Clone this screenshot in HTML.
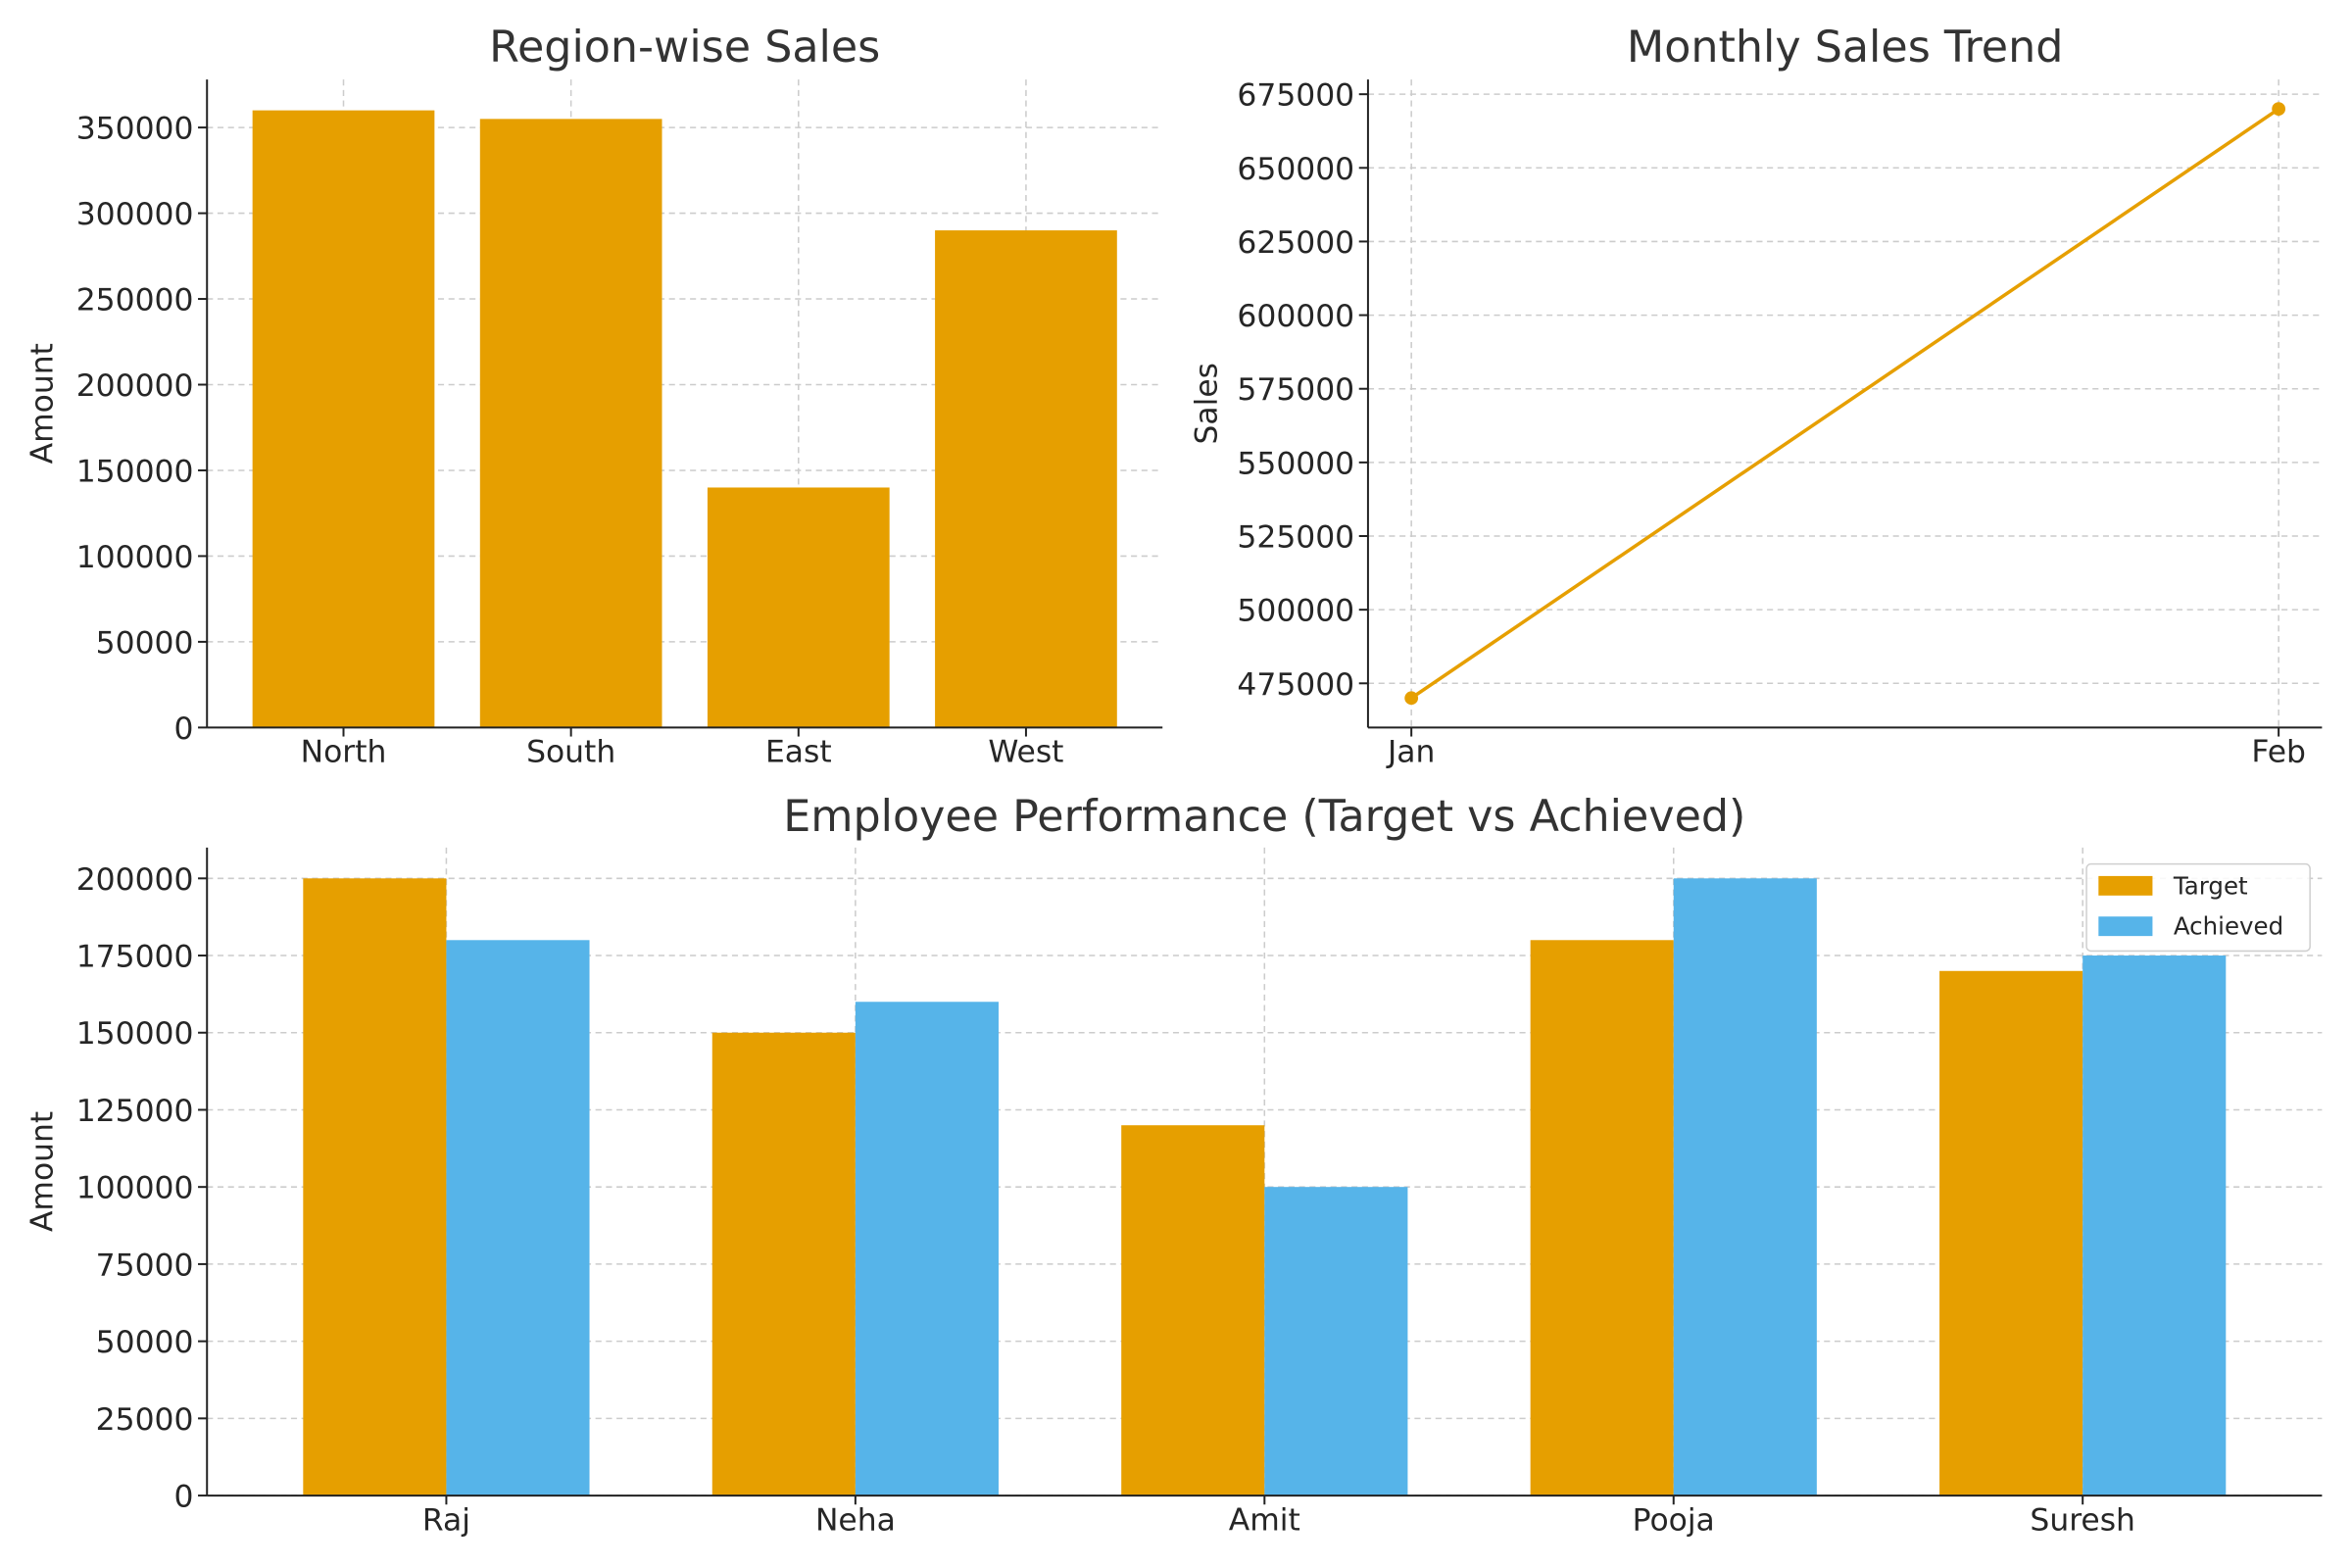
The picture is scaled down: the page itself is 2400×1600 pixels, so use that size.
<!DOCTYPE html>
<html><head><meta charset="utf-8"><style>
html,body{margin:0;padding:0;background:#fff;}
svg{display:block;font-family:"DejaVu Sans","Liberation Sans",sans-serif;}
</style></head><body>
<svg id="c" width="2400" height="1600" viewBox="0 0 1568 1045.3" preserveAspectRatio="none"></svg>
<script>
const regions = ['North','South','East','West'];
const regionSales = [360000,355000,140000,290000];
const regionTicks = [0,50000,100000,150000,200000,250000,300000,350000];
const months = ['Jan','Feb'];
const monthSales = [470000,670000];
const monthTicks = [475000,500000,525000,550000,575000,600000,625000,650000,675000];
const employees = ['Raj','Neha','Amit','Pooja','Suresh'];
const targetVals = [200000,150000,120000,180000,170000];
const achievedVals = [180000,160000,100000,200000,175000];
const empTicks = [0,25000,50000,75000,100000,125000,150000,175000,200000];

const NS='http://www.w3.org/2000/svg';
const svg=document.getElementById('c');
const ORANGE='#E69F00', BLUE='#56B4E9', TXT='#262626', TTL='#333333';
const TS=20.5, TTS=29;
function el(tag,attrs,parent){const e=document.createElementNS(NS,tag);for(const k in attrs)e.setAttribute(k,attrs[k]);(parent||svg).appendChild(e);return e;}
function txt(s,x,y,size,anchor,parent,extra){const t=el('text',Object.assign({x:x,y:y,'font-size':size,'text-anchor':anchor||'middle',fill:TXT},extra||{}),parent);t.textContent=s;return t;}
function lin(d0,d1,r0,r1){return v=>r0+(v-d0)/(d1-d0)*(r1-r0);}

function axesFrame(g,L,R,T,B,yt,ys,xt,xs,title,ylabel){
  yt.forEach(v=>{const y=ys(v);
    el('line',{x1:L,x2:R,y1:y,y2:y,stroke:'#cccccc','stroke-dasharray':'4,3','stroke-width':1},g);
    el('line',{x1:L-6,x2:L,y1:y,y2:y,stroke:'#222','stroke-width':1.3},g);
    const t=txt(String(v),L-9,y+7.5,TS,'end',g);
    });
  xt.forEach((c,i)=>{const x=xs(i);
    el('line',{x1:x,x2:x,y1:T,y2:B,stroke:'#cccccc','stroke-dasharray':'4,3','stroke-width':1},g);
    el('line',{x1:x,x2:x,y1:B,y2:B+6,stroke:'#222','stroke-width':1.3},g);
    const t=txt(c,x,B+23,TS,'middle',g);
    });
  if(title){const tt=txt(title,(L+R)/2,41,TTS,'middle',g,{fill:TTL});
  }
  const yl=txt(ylabel,0,0,TS,'middle',g,{transform:`translate(${L===912?811:35},${(T+B)/2}) rotate(-90)`});
  
}
function spines(g,L,R,T,B){
  el('line',{x1:L,x2:L,y1:T,y2:B,stroke:'#222','stroke-width':1.3},g);
  el('line',{x1:L,x2:R,y1:B,y2:B,stroke:'#222','stroke-width':1.3},g);
}

// Chart 1
(function(){
  const g=el('g',{});
  const L=138,R=775,T=53,B=485;
  const ys=lin(0,378000,B,T), xs=lin(-0.6,3.6,L,R);
  axesFrame(g,L,R,T,B,regionTicks,ys,regions,xs,'Region-wise Sales','Amount');
  regions.forEach((r,i)=>{const w=xs(0.4)-xs(0);
    const b=el('rect',{x:xs(i)-w,y:ys(regionSales[i]),width:2*w,height:ys(0)-ys(regionSales[i]),fill:ORANGE},g);
    });
  spines(g,L,R,T,B);
})();

// Chart 2
(function(){
  const g=el('g',{});
  const L=912,R=1548,T=53,B=485;
  const ys=lin(460000,680000,B,T), xs=lin(-0.05,1.05,L,R);
  axesFrame(g,L,R,T,B,monthTicks,ys,months,xs,'Monthly Sales Trend','Sales');
  const pts=monthSales.map((v,i)=>xs(i)+','+ys(v)).join(' ');
  const pl=el('polyline',{points:pts,fill:'none',stroke:ORANGE,'stroke-width':2.3},g);
  
  monthSales.forEach((v,i)=>{const c=el('circle',{cx:xs(i),cy:ys(v),r:4.5,fill:ORANGE},g);
    });
  spines(g,L,R,T,B);
})();

// Chart 3
(function(){
  const g=el('g',{});
  const L=138,R=1548,T=565,B=997;
  const ys=lin(0,210000,B,T), xs=lin(-0.585,4.585,L,R);
  axesFrame(g,L,R,T,B,empTicks,ys,employees,xs,'','Amount');
  const tt=txt('Employee Performance (Target vs Achieved)',(L+R)/2,554,TTS,'middle',g,{fill:TTL});
  
  const w=xs(0.35)-xs(0);
  employees.forEach((e,i)=>{
    const a=el('rect',{x:xs(i)-w,y:ys(targetVals[i]),width:w,height:ys(0)-ys(targetVals[i]),fill:ORANGE},g);
    
    const b=el('rect',{x:xs(i),y:ys(achievedVals[i]),width:w,height:ys(0)-ys(achievedVals[i]),fill:BLUE},g);
    });
  spines(g,L,R,T,B);
  const lg=el('g',{},g);
  el('rect',{x:1391,y:576,width:149,height:58,rx:3,fill:'#fff','fill-opacity':0.85,stroke:'#d0d0d0'},lg);
  [['Target',ORANGE,590],['Achieved',BLUE,617]].forEach(([n,c,y])=>{
    const e=el('g',{},lg);
    el('rect',{x:1399,y:y-6,width:36,height:13,fill:c},e);
    txt(n,1449,y+6,16,'start',e);});
})();
</script>
</body></html>
